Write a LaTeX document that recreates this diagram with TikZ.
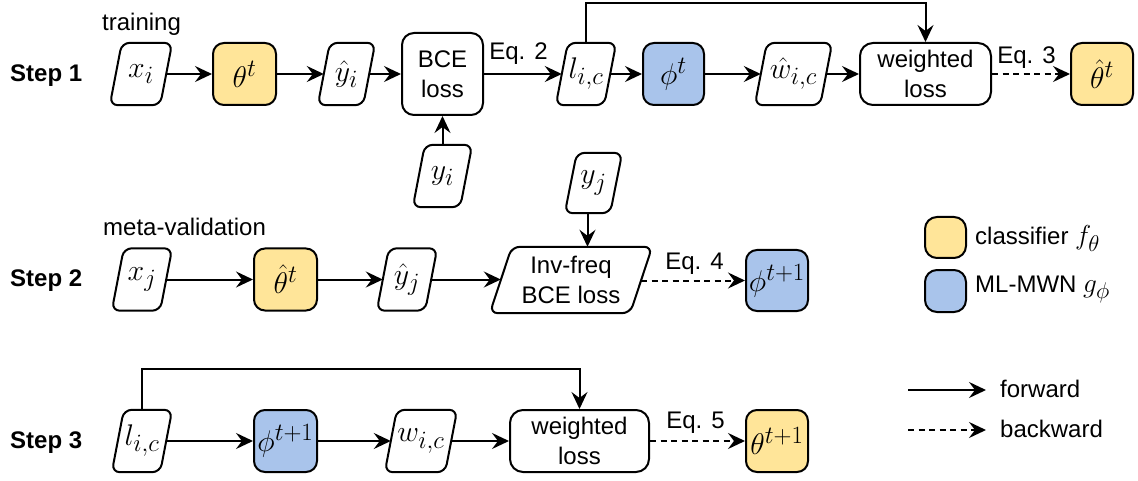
\RequirePackage{fix-cm}
\documentclass[tikz,border=0pt]{standalone}
\usepackage{graphicx}
\usepackage{fontspec}
\setmainfont{Liberation Sans}
\usetikzlibrary{arrows.meta,calc}
\definecolor{cyellow}{HTML}{FFE599}
\definecolor{cblue}{HTML}{A9C4EB}
\newcommand\legmath[1]{{\fontsize{24.88}{30}\selectfont\scalebox{1.1}{$#1$}}}
\newcommand\mm[1]{\scalebox{1.2}{$#1$}}
\tikzset{
  lw/.style={line width=2pt},
  txt/.style={font=\fontsize{24}{30}\selectfont, align=center, inner sep=0pt},
  mth/.style={font=\fontsize{24.88}{30}\selectfont, inner sep=0pt},
  rbox/.style={draw, lw, rounded corners=11pt, inner sep=0pt},
  ybox/.style={rbox, fill=cyellow},
  bbox/.style={rbox, fill=cblue},
  fwd/.style={lw, -{Stealth[length=17pt,width=16pt,inset=6pt]}},
  bwd/.style={fwd, dash pattern=on 6pt off 4.5pt},
  lbl/.style={font=\fontsize{24}{30}\selectfont, anchor=base west, inner sep=0pt},
  lblc/.style={font=\fontsize{24}{30}\selectfont, anchor=base, inner sep=0pt},
  steplbl/.style={font=\fontsize{24}{30}\selectfont\bfseries, anchor=base west, inner sep=0pt},
}
% name, x, y, avg width, height, skew, text, style
\newcommand\paranode[8]{%
  \node[#8, minimum width=#4pt, minimum height=#5pt] (#1) at (#2,#3) {#7};
  \draw[lw, rounded corners=8pt] (#1.south) -- ($(#1.south east)+(-#6/2,0)$)
    -- ($(#1.north east)+(#6/2,0)$) -- ($(#1.north west)+(#6/2,0)$)
    -- ($(#1.south west)+(-#6/2,0)$) -- (#1.south);
  \coordinate (#1-b) at ($(#1.south)+(-#6/2,0)$);
  \coordinate (#1-t) at ($(#1.north)+(#6/2,0)$);
}
\begin{document}
\begin{tikzpicture}[x=1pt,y=-1pt]
\useasboundingbox (0,0) rectangle (1138,481);

% ---------- labels ----------
\node[lbl] (ltrain) at (102,31) {training};
\node[lbl] (lmeta) at (103,236) {meta-validation};
\node[steplbl] (s1) at (10,82) {Step 1};
\node[steplbl] (s2) at (10,286) {Step 2};
\node[steplbl] (s3) at (10,448) {Step 3};

% ---------- Step 1 ----------
\paranode{xi}{141}{74}{50}{62}{12}{\mm{x_i}}{mth}
\node[ybox, mth, minimum width=63pt, minimum height=62pt] (th1) at (244.5,74) {\mm{\theta^t}};
\paranode{yh1}{346.5}{74}{45}{62}{12}{\mm{\hat{y}_i}}{mth}
\node[rbox, txt, minimum width=81pt, minimum height=82pt, rounded corners=12pt] (bce) at (442.5,74) {BCE\\loss};
\paranode{yi}{442.5}{176}{47}{62}{12}{\mm{y_i}}{mth}
\paranode{lic1}{586}{74}{48}{62}{12}{\mm{l_{i,c}}}{mth}
\node[bbox, mth, minimum width=61pt, minimum height=62pt] (phi1) at (673.5,74) {\mm{\phi^t}};
\paranode{wh1}{793.5}{74}{65}{62}{12}{\mm{\hat{w}_{i,c}}}{mth}
\node[rbox, txt, minimum width=131pt, minimum height=62pt, rounded corners=13pt] (wl1) at (925.5,74) {weighted\\loss};
\node[ybox, mth, minimum width=62pt, minimum height=62pt] (thh1) at (1102,74) {\mm{\hat{\theta}^t}};

\draw[fwd] (xi) -- (th1);
\draw[fwd] (th1) -- (yh1);
\draw[fwd] (yh1.east) -- (yh1.east -| bce.west);
\draw[fwd] (yi.north) -- (yi.north |- bce.south);
\draw[fwd] (bce.east |- lic1.west) -- (lic1.west);
\node[lblc] (eq2) at (518.5,60) {Eq. 2};
\draw[fwd] (lic1) -- (phi1);
\draw[fwd] (phi1) -- (wh1);
\draw[fwd] (wh1) -- (wl1);
\coordinate (r1) at (0,3);
\draw[fwd] (lic1.north) -- (lic1.north |- r1) -| (wl1.north);
\draw[bwd] (wl1) -- (thh1);
\node[lblc] (eq3) at (1026.5,64) {Eq. 3};

% ---------- Step 2 ----------
\paranode{xj}{142}{279.5}{48}{62}{12}{\mm{x_j}}{mth}
\node[ybox, mth, minimum width=63pt, minimum height=62pt] (th2) at (285.5,279.5) {\mm{\hat{\theta}^t}};
\paranode{yh2}{407}{279.5}{48}{62}{12}{\mm{\hat{y}_j}}{mth}
\paranode{inv}{571}{280}{140}{66}{22}{Inv-freq\\BCE loss}{txt}
\paranode{yj}{593.5}{183}{45}{60}{12}{\mm{y_j}}{mth}
\node[bbox, mth, minimum width=62pt, minimum height=61pt] (phi2) at (777,280.5) {\mm{\phi^{t+1}}};

\draw[fwd] (xj) -- (th2);
\draw[fwd] (th2) -- (yh2);
\draw[fwd] (yh2.east) -- (inv.west |- yh2.east);
\draw[fwd] (yj-b) -- (yj-b |- inv.north);
\draw[bwd] (inv.east |- phi2.west) -- (phi2.west);
\node[lblc] (eq4) at (694.5,269.5) {Eq. 4};

% ---------- Step 3 ----------
\paranode{lic3}{142}{441}{48}{62}{12}{\mm{l_{i,c}}}{mth}
\node[bbox, mth, minimum width=63pt, minimum height=62pt] (phi3) at (285.5,441) {\mm{\phi^{t+1}}};
\paranode{wic3}{421}{441}{60}{62}{12}{\mm{w_{i,c}}}{mth}
\node[rbox, txt, minimum width=139pt, minimum height=62pt, rounded corners=13pt] (wl3) at (579.5,441) {weighted\\loss};
\node[ybox, mth, minimum width=62pt, minimum height=62pt] (th3) at (777,441) {\mm{\theta^{t+1}}};

\draw[fwd] (lic3) -- (phi3);
\draw[fwd] (phi3) -- (wic3);
\draw[fwd] (wic3) -- (wl3);
\coordinate (t3) at (0,369);
\draw[fwd] (lic3.north) -- (lic3.north |- t3) -| (wl3.north);
\draw[bwd] (wl3) -- (th3);
\node[lblc] (eq5) at (695.5,428.5) {Eq. 5};

% ---------- Legend ----------
\node[ybox, minimum width=41pt, minimum height=41pt, rounded corners=12pt] (leg1) at (945.5,237.5) {};
\node[lbl] (leg1t) at (975,245) {classifier \legmath{f_\theta}};
\node[bbox, minimum width=41pt, minimum height=42pt, rounded corners=12pt] (leg2) at (945.5,291) {};
\node[lbl] (leg2t) at (975,292) {ML-MWN \legmath{g_\phi}};
\coordinate (fa) at (908,390);
\coordinate (fb) at (986,390);
\draw[fwd] (fa) -- (fb);
\node[lbl] (fwdt) at (1000,397) {forward};
\coordinate (ba) at (908,430);
\coordinate (bb) at (986,430);
\draw[bwd] (ba) -- (bb);
\node[lbl] (bwdt) at (1000,437) {backward};
\end{tikzpicture}
\end{document}
